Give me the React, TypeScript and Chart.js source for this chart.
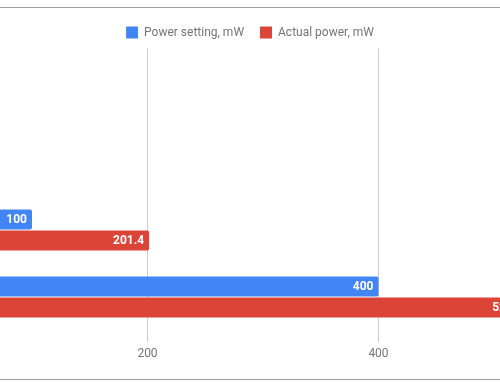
import React, { useEffect, useRef } from "react";
import { Chart, registerables } from "chart.js";

Chart.register(...registerables);

const categories: string[] = ["Row 1", "Row 2", "Row 3", "Row 4"];
const powerSetting: (number | null)[] = [null, null, 100, 400];
const actualPower: (number | null)[] = [null, null, 201.4, 529.6];
const seriesNames: string[] = ["Power setting, mW", "Actual power, mW"];
const gridTicks: number[] = [200, 400];
const xMin = 72.29;
const xMax = 505.2;

const valueLabels = {
  id: "valueLabels",
  afterDatasetsDraw(chart: any) {
    const ctx = chart.ctx;
    ctx.save();
    ctx.font = "bold 12px Roboto";
    ctx.fillStyle = "#ffffff";
    ctx.textAlign = "right";
    ctx.textBaseline = "middle";
    chart.data.datasets.forEach((ds: any, di: number) => {
      const meta = chart.getDatasetMeta(di);
      meta.data.forEach((el: any, i: number) => {
        const v = ds.data[i];
        if (v === null || v === undefined) return;
        ctx.fillText(String(v), el.x - 5, el.y + 0.5);
      });
    });
    ctx.restore();
  },
};

export default function App() {
  const ref = useRef<HTMLCanvasElement | null>(null);
  useEffect(() => {
    document.body.style.margin = "0";
    Chart.defaults.font.family = "Roboto";
    const setTicks = (scale: any) => {
      scale.ticks = gridTicks.map((v) => ({ value: v }));
    };
    const chart = new Chart(ref.current as HTMLCanvasElement, {
      type: "bar",
      data: {
        labels: categories,
        datasets: [
          {
            label: seriesNames[0],
            data: powerSetting,
            backgroundColor: "#4285F4",
            borderRadius: 2,
            categoryPercentage: 42 / 67,
            barPercentage: 20 / 21,
          },
          {
            label: seriesNames[1],
            data: actualPower,
            backgroundColor: "#DB4437",
            borderRadius: 2,
            categoryPercentage: 42 / 67,
            barPercentage: 20 / 21,
          },
        ],
      },
      options: {
        indexAxis: "y",
        animation: false,
        responsive: false,
        devicePixelRatio: 1,
        layout: { padding: { top: 10.5, bottom: 21, left: 0, right: 0 } },
        plugins: {
          legend: {
            position: "top",
            labels: {
              boxWidth: 12,
              boxHeight: 12,
              padding: 16,
              color: "#757575",
              font: { size: 12, family: "Roboto" },
            },
          },
          tooltip: { enabled: false },
        },
        scales: {
          y: { display: false },
          x: {
            type: "linear",
            position: "bottom",
            min: xMin,
            max: xMax,
            afterBuildTicks: setTicks,
            grid: {
              color: "#cccccc",
              drawTicks: true,
              tickLength: 11.5,
              tickColor: "#cccccc",
            },
            border: { display: false },
            ticks: {
              color: "#757575",
              padding: 4.3,
              font: { size: 12, family: "Roboto" },
            },
          },
          x2: {
            type: "linear",
            position: "top",
            min: xMin,
            max: xMax,
            afterBuildTicks: setTicks,
            grid: {
              color: "#cccccc",
              drawOnChartArea: false,
              drawTicks: true,
              tickLength: 14,
              tickColor: "#cccccc",
            },
            border: { display: false },
            ticks: { display: false },
          },
        },
      },
      plugins: [valueLabels],
    });
    return () => chart.destroy();
  }, []);
  return (
    <div style={{ position: "relative", width: 500, height: 386, background: "#fff" }}>
      <canvas ref={ref} width={500} height={386} style={{ display: "block" }} />
      <div
        style={{
          position: "absolute",
          left: 0,
          top: 7,
          width: 500,
          height: 371,
          borderTop: "1px solid #9e9e9e",
          borderBottom: "1px solid #9e9e9e",
          pointerEvents: "none",
        }}
      />
    </div>
  );
}
